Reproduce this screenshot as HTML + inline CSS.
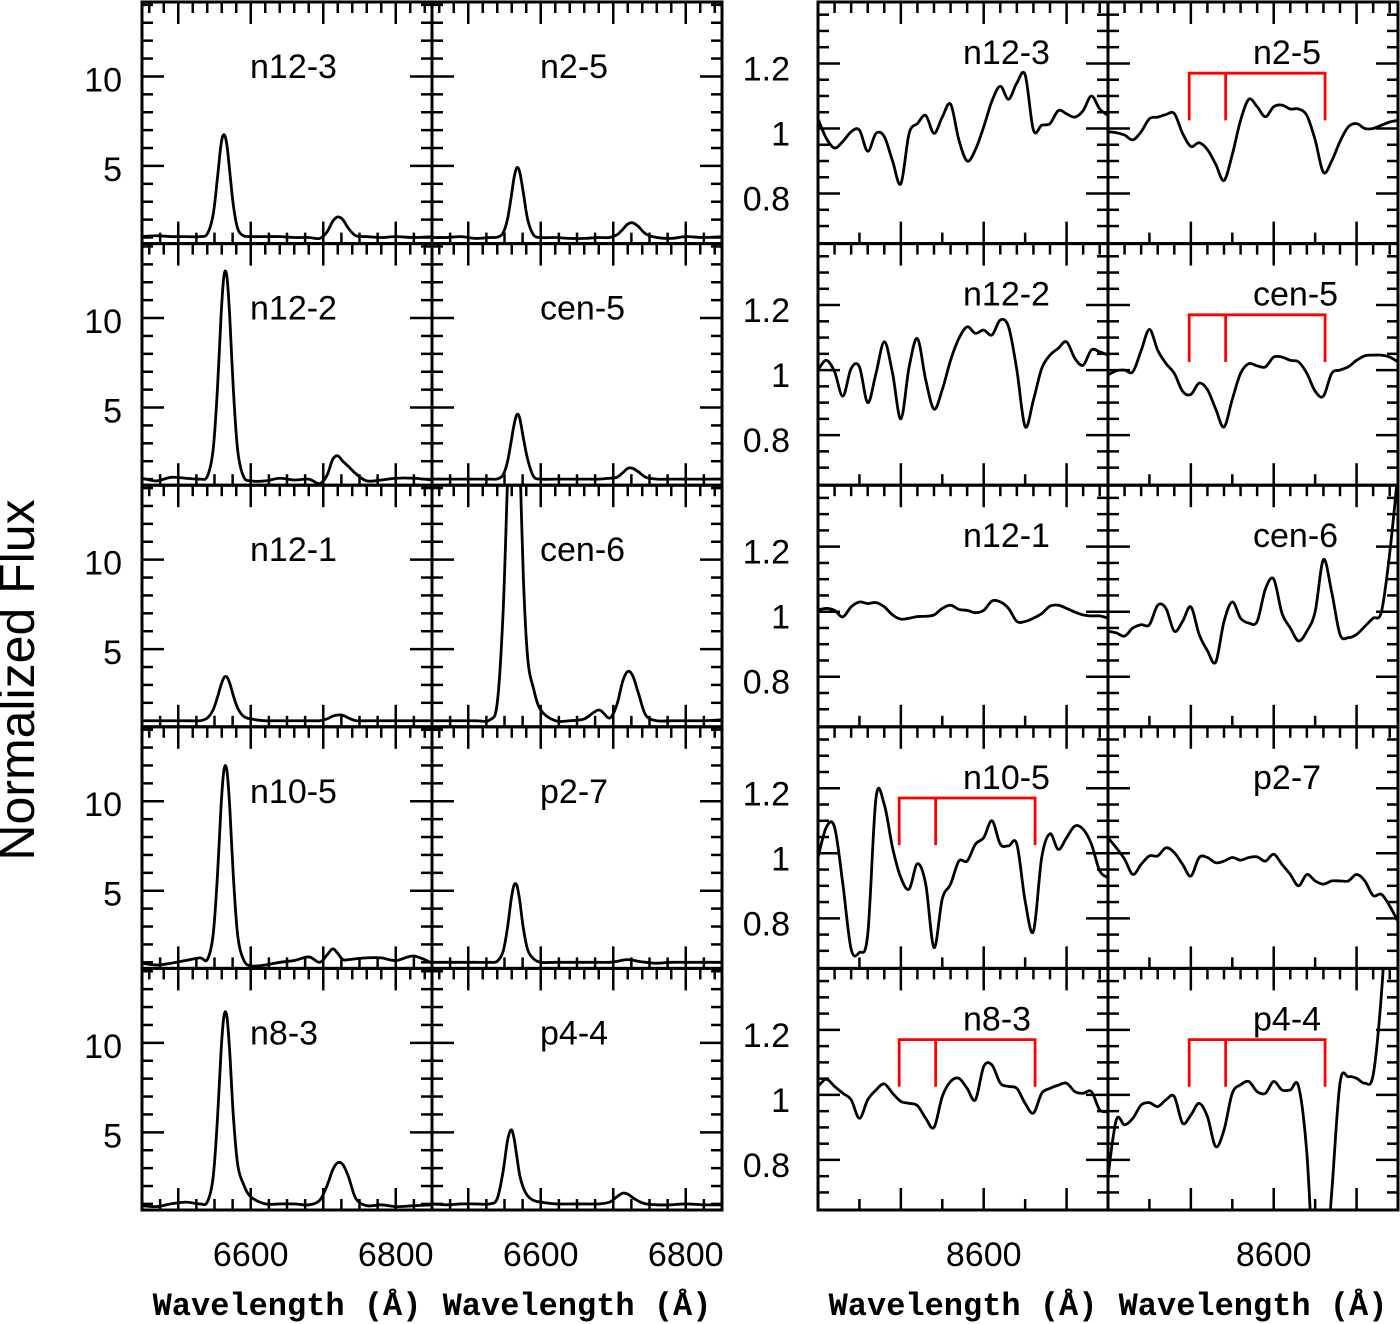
<!DOCTYPE html>
<html><head><meta charset="utf-8">
<style>
html,body{margin:0;padding:0;background:#fff;}
svg{display:block;}
text{font-family:"Liberation Sans",Arial,sans-serif;fill:#000;}
.mono{font-family:"Liberation Mono","DejaVu Sans Mono",monospace;font-weight:bold;}
</style></head>
<body>
<svg id="chart" width="1400" height="1324" viewBox="0 0 1400 1324" xmlns="http://www.w3.org/2000/svg"></svg>
<script>
// ---- Data ----
const halphaWave = [6450,6470,6490,6510,6530,6540,6548,6554,6559,6563,6567,6571,6576,6582,6590,6600,6620,6640,6660,6680,6695,6705,6713,6720,6727,6735,6745,6760,6780,6800,6825,6850];
const fluxN12_3 = [1.05,1.1,1.05,1.05,1.05,1.2,2.25,4.3,6.2,6.75,6.2,4.7,2.8,1.5,1.1,1.05,1.05,1.05,1.0,1.0,0.95,1.3,1.9,2.15,2.0,1.5,1.1,1.05,1.0,1.05,1.0,1.05];
const fluxN2_5  = [1.0,1.0,1.05,0.95,1.0,1.02,1.25,2.0,3.2,4.3,4.9,4.65,3.5,2.0,1.15,1.0,1.0,0.95,0.95,1.0,1.0,1.15,1.45,1.75,1.82,1.6,1.2,1.0,0.95,1.05,1.0,1.05];
const fluxN12_2 = [1.05,0.9,1.1,1.05,1.0,1.15,2.6,6.0,10.1,12.35,12.35,10.1,6.0,2.6,1.15,0.9,0.9,1.05,0.95,1.0,0.75,1.2,2.1,2.3,2.0,1.7,1.3,0.9,0.95,1.05,1.05,0.95];
const fluxCen5  = [1.0,1.0,1.0,1.0,1.0,1.01,1.23,1.95,3.05,4.0,4.6,4.4,3.3,2.1,1.15,1.0,1.0,1.0,1.0,1.0,1.05,1.1,1.35,1.6,1.6,1.4,1.1,1.0,1.0,1.0,1.0,1.0];
const fluxN12_1 = [1.0,1.0,1.0,1.0,1.0,1.15,1.6,2.3,3.0,3.4,3.45,3.1,2.4,1.7,1.25,1.1,1.0,1.0,1.0,1.0,1.0,1.1,1.25,1.32,1.3,1.15,1.0,1.0,1.0,1.0,1.0,1.0];
const fluxCen6  = [1.0,1.0,1.0,1.0,1.05,2.0,7.0,14.2,20,22,21,16,9,4.5,2.8,1.6,1.0,1.0,1.1,1.6,1.15,1.9,3.2,3.75,3.5,2.5,1.3,1.0,1.0,1.0,1.0,1.05];
const fluxN10_5 = [0.95,0.85,0.95,1.1,1.25,1.15,2.5,5.8,9.7,11.75,11.75,9.7,5.8,2.5,1.15,0.8,0.85,1.0,1.1,1.3,1.0,1.4,1.75,1.5,1.15,1.15,1.2,1.25,1.25,1.1,1.35,0.95];
const fluxP2_7  = [1.0,1.0,1.0,1.0,1.0,1.06,1.6,2.9,4.45,5.3,5.3,4.45,2.9,1.7,1.2,1.0,1.0,1.0,1.0,1.0,1.0,1.05,1.12,1.15,1.12,1.05,1.0,0.95,1.0,1.0,1.0,1.0];
const fluxN8_3  = [0.9,0.85,1.0,1.1,1.0,1.1,2.45,5.7,9.5,11.5,11.5,9.5,5.9,3.2,2.1,1.4,1.0,1.0,1.0,0.95,1.2,2.0,2.9,3.3,3.2,2.5,1.3,0.9,0.95,0.85,0.9,0.95];
const fluxP4_4  = [1.0,0.95,1.0,1.0,1.0,1.3,2.8,4.5,5.14,4.7,3.65,2.6,1.9,1.45,1.2,1.1,1.0,1.0,1.0,1.0,1.1,1.4,1.6,1.55,1.35,1.15,1.0,0.95,0.95,1.0,0.95,0.95];

const catWave = [8400,8410,8420,8430,8440,8450,8460,8470,8480,8490,8500,8510,8520,8530,8540,8550,8560,8570,8580,8590,8600,8610,8620,8630,8640,8650,8660,8670,8680,8690,8700,8710,8720,8730,8740,8750];
const catN12_3 = [1.03,0.97,0.94,0.96,0.99,0.995,0.93,0.985,0.975,0.9,0.83,0.985,1.015,1.04,0.985,1.035,1.075,0.965,0.9,0.935,1.005,1.085,1.13,1.09,1.14,1.165,0.995,1.01,1.015,1.055,1.045,1.035,1.055,1.1,1.06,1.04];
const catN2_5  = [0.99,0.987,0.98,0.965,0.99,1.03,1.035,1.043,1.046,0.985,0.945,0.956,0.935,0.89,0.84,0.92,1.025,1.09,1.067,1.036,1.067,1.072,1.06,1.06,1.04,0.965,0.865,0.9,0.96,1.005,1.015,1.0,1.0,1.01,1.02,1.025];
const catN12_2 = [1.0,1.03,0.995,0.92,1.005,1.01,0.9,0.99,1.087,0.99,0.85,1.01,1.097,0.97,0.88,0.94,1.03,1.097,1.133,1.113,1.123,1.108,1.154,1.133,1.0,0.826,0.908,1.005,1.046,1.067,1.087,1.036,1.015,1.062,1.056,1.046];
const catCen5  = [0.985,0.998,1.0,0.995,1.06,1.125,1.061,1.02,0.99,0.935,0.925,0.96,0.94,0.88,0.825,0.91,0.99,1.02,1.013,1.01,1.04,1.04,1.03,1.025,0.99,0.935,0.92,0.99,1.0,1.01,1.03,1.044,1.046,1.046,1.04,1.025];
const catN12_1 = [1.005,1.01,1.004,0.984,1.015,1.03,1.025,1.028,1.015,0.99,0.977,0.98,0.985,0.986,0.99,1.01,1.02,1.007,1.004,0.997,1.004,1.033,1.03,1.01,0.97,0.97,0.98,0.994,1.017,1.02,1.01,0.999,0.99,0.987,0.987,0.98];
const catCen6  = [0.94,0.935,0.925,0.95,0.96,0.96,1.02,1.01,0.94,0.97,1.015,0.93,0.88,0.845,0.97,1.03,0.98,0.965,0.97,1.07,1.1,0.995,0.95,0.91,0.94,1.0,1.16,1.06,0.93,0.92,0.93,0.955,0.98,1.0,1.18,1.43];
const catN10_5 = [0.987,1.08,1.08,0.905,0.705,0.695,0.75,1.17,1.15,1.017,0.925,0.89,0.968,0.905,0.71,0.86,0.905,0.976,0.976,1.028,1.048,1.1,1.028,1.023,1.028,0.853,0.76,0.987,1.06,1.012,1.048,1.084,1.074,1.028,0.946,0.925];
const catP2_7  = [1.048,1.017,0.982,0.935,0.966,0.992,0.992,1.017,1.002,0.966,0.93,0.987,0.987,0.971,0.976,0.987,0.979,0.987,0.989,0.976,0.997,0.966,0.935,0.9,0.935,0.915,0.905,0.915,0.915,0.915,0.935,0.915,0.87,0.874,0.838,0.79];
const catN8_3  = [1.026,1.048,1.026,1.005,0.985,0.928,0.985,1.015,1.034,1.005,0.98,0.974,0.967,0.928,0.9,0.995,1.041,1.051,1.02,0.985,1.087,1.092,1.036,1.026,1.02,0.974,0.944,1.005,1.02,1.03,1.036,1.01,1.005,1.01,0.954,0.949];
const catP4_4  = [0.75,0.923,0.908,0.928,0.969,0.976,0.964,0.985,0.995,0.913,0.938,0.974,0.933,0.841,0.892,1.005,1.031,1.041,1.01,1.005,1.041,1.015,1.015,1.026,0.82,0.39,0.39,0.7,1.036,1.056,1.051,1.036,1.061,1.31,1.72,2.0];

const caTriplet = [8498, 8542, 8662];
const leftYTicks = [5, 10];
const rightYTicks = [0.8, 1, 1.2];
const leftXLabels = [6600, 6800];
const rightXLabels = [8600];

// ---- Layout ----
const NS = "http://www.w3.org/2000/svg";
const svg = document.getElementById('chart');
const rowTop = r => 2 + 241.6 * r;
const PH = 241.6, PW = 290;
const leftCols = [142, 432], rightCols = [818, 1108];
const LX = [6450, 6850], LY = [0.66, 14.16];
const RX = [8400, 8750], RY = [0.646, 1.389];

const panels = [
  {block:'L', r:0, c:0, name:'n12-3', y:fluxN12_3}, {block:'L', r:0, c:1, name:'n2-5', y:fluxN2_5},
  {block:'L', r:1, c:0, name:'n12-2', y:fluxN12_2}, {block:'L', r:1, c:1, name:'cen-5', y:fluxCen5},
  {block:'L', r:2, c:0, name:'n12-1', y:fluxN12_1}, {block:'L', r:2, c:1, name:'cen-6', y:fluxCen6},
  {block:'L', r:3, c:0, name:'n10-5', y:fluxN10_5}, {block:'L', r:3, c:1, name:'p2-7', y:fluxP2_7},
  {block:'L', r:4, c:0, name:'n8-3', y:fluxN8_3}, {block:'L', r:4, c:1, name:'p4-4', y:fluxP4_4},
  {block:'R', r:0, c:0, name:'n12-3', y:catN12_3}, {block:'R', r:0, c:1, name:'n2-5', y:catN2_5, ca:true},
  {block:'R', r:1, c:0, name:'n12-2', y:catN12_2}, {block:'R', r:1, c:1, name:'cen-5', y:catCen5, ca:true},
  {block:'R', r:2, c:0, name:'n12-1', y:catN12_1}, {block:'R', r:2, c:1, name:'cen-6', y:catCen6},
  {block:'R', r:3, c:0, name:'n10-5', y:catN10_5, ca:true}, {block:'R', r:3, c:1, name:'p2-7', y:catP2_7},
  {block:'R', r:4, c:0, name:'n8-3', y:catN8_3, ca:true}, {block:'R', r:4, c:1, name:'p4-4', y:catP4_4, ca:true}
];

function mk(tag, attrs, parent) {
  const e = document.createElementNS(NS, tag);
  for (const k in attrs) e.setAttribute(k, attrs[k]);
  (parent || svg).appendChild(e);
  return e;
}
function catmull(pts) {
  let d = 'M' + pts[0][0].toFixed(2) + ',' + pts[0][1].toFixed(2);
  for (let i = 0; i < pts.length - 1; i++) {
    const p0 = pts[i-1] || pts[i], p1 = pts[i], p2 = pts[i+1], p3 = pts[i+2] || pts[i+1];
    const c1 = [p1[0] + (p2[0]-p0[0])/6, p1[1] + (p2[1]-p0[1])/6];
    const c2 = [p2[0] - (p3[0]-p1[0])/6, p2[1] - (p3[1]-p1[1])/6];
    d += 'C' + c1[0].toFixed(2) + ',' + c1[1].toFixed(2) + ' ' + c2[0].toFixed(2) + ',' + c2[1].toFixed(2) + ' ' + p2[0].toFixed(2) + ',' + p2[1].toFixed(2);
  }
  return d;
}

const defs = mk('defs', {});
panels.forEach((p, i) => {
  const x0 = (p.block === 'L' ? leftCols : rightCols)[p.c];
  const y0 = rowTop(p.r);
  const xr = p.block === 'L' ? LX : RX, yr = p.block === 'L' ? LY : RY;
  const sx = v => x0 + (v - xr[0]) / (xr[1] - xr[0]) * PW;
  const sy = v => y0 + PH - (v - yr[0]) / (yr[1] - yr[0]) * PH;
  const g = mk('g', {});
  
  
  const cp = mk('clipPath', {id: 'cp' + i}, defs);
  mk('rect', {x: x0, y: y0, width: PW, height: PH}, cp);

  const tg = mk('g', {stroke: '#000', 'stroke-width': 2.5}, g);
  
  
  if (p.block === 'L') {
    for (let v = 1; v <= 14; v++) {
      const L = (v % 5 === 0) ? 22 : 11, y = sy(v);
      mk('line', {x1: x0, y1: y, x2: x0 + L, y2: y}, tg);
      mk('line', {x1: x0 + PW, y1: y, x2: x0 + PW - L, y2: y}, tg);
    }
    for (let w = 6460; w < 6850; w += 20) { const L = (w % 100 === 0) ? 22 : 11; mk('line', {x1: sx(w), y1: y0, x2: sx(w), y2: y0 + L}, tg); }
    for (let w = 6475; w < 6850; w += 25) { const L = (w % 100 === 0) ? 22 : 11; mk('line', {x1: sx(w), y1: y0 + PH, x2: sx(w), y2: y0 + PH - L}, tg); }
  } else {
    for (let k = 14; k <= 27; k++) {
      const v = k * 0.05, L = (k % 4 === 0) ? 22 : 11, y = sy(v);
      mk('line', {x1: x0, y1: y, x2: x0 + L, y2: y}, tg);
      mk('line', {x1: x0 + PW, y1: y, x2: x0 + PW - L, y2: y}, tg);
    }
    for (let w = 8420; w < 8750; w += 20) { const L = (w % 100 === 0) ? 22 : 11; mk('line', {x1: sx(w), y1: y0, x2: sx(w), y2: y0 + L}, tg); }
    for (let w = 8450; w < 8750; w += 50) { const L = (w % 100 === 0) ? 22 : 11; mk('line', {x1: sx(w), y1: y0 + PH, x2: sx(w), y2: y0 + PH - L}, tg); }
  }

  const wav = p.block === 'L' ? halphaWave : catWave;
  const pts = wav.map((w, j) => [sx(w), sy(p.y[j])]);
  const path = mk('path', {d: catmull(pts), fill: 'none', stroke: '#000', 'stroke-width': 2.8, 'stroke-linejoin': 'round', 'clip-path': 'url(#cp' + i + ')'}, g);
  
  

  if (p.ca) {
    const top = sy(1.17), bot = sy(1.025);
    const br = mk('path', {d: 'M' + sx(caTriplet[0]) + ',' + bot + 'V' + top + 'H' + sx(caTriplet[2]) + 'V' + bot + 'M' + sx(caTriplet[1]) + ',' + top + 'V' + bot, fill: 'none', stroke: '#ff0000', 'stroke-width': 2.8}, g);
    
    
  }

  const fr = mk('rect', {x: x0, y: y0, width: PW, height: PH, fill: 'none', stroke: '#000', 'stroke-width': 3}, g);
  
  

  const lx = x0 + (p.block === 'L' ? 108 : 145), ly = y0 + (p.block === 'L' ? 76 : 62);
  const t = mk('text', {x: lx, y: ly, 'font-size': 34}, g);
  t.textContent = p.name;
  
  

  if (p.c === 0) {
    const vals = p.block === 'L' ? leftYTicks : rightYTicks;
    vals.forEach(v => {
      const tt = mk('text', {x: p.block === 'L' ? 122 : 790, y: sy(v) + (p.block === 'L' ? 15 : 17), 'font-size': 34, 'text-anchor': 'end'}, g);
      tt.textContent = String(v);
      
      
    });
  }
  if (p.r === 4) {
    const vals = p.block === 'L' ? leftXLabels : rightXLabels;
    vals.forEach(v => {
      const tt = mk('text', {x: sx(v), y: 1266, 'font-size': 34, 'text-anchor': 'middle'}, g);
      tt.textContent = String(v);
      
      
    });
    const xt = mk('text', {x: x0 + PW / 2, y: 1315, 'font-size': 32, 'text-anchor': 'middle', 'class': 'mono'}, g);
    xt.textContent = 'Wavelength (Å)';
    
    
  }
});

const yt = mk('text', {x: 0, y: 0, 'font-size': 50, 'text-anchor': 'middle', transform: 'translate(34,680) rotate(-90)'});
yt.textContent = 'Normalized Flux';


</script>
</body></html>
